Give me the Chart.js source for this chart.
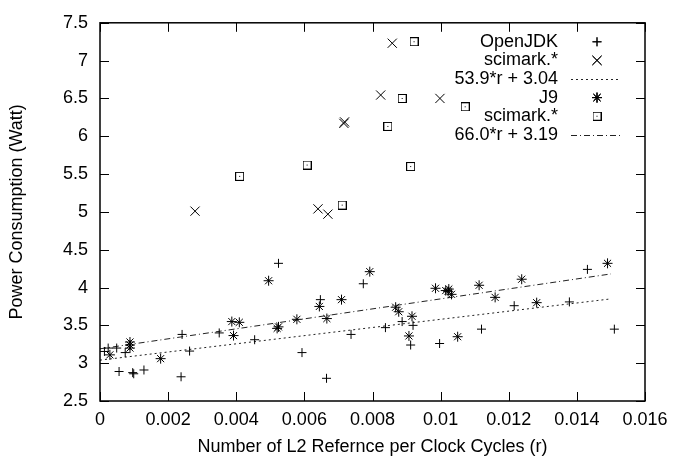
<!DOCTYPE html>
<html>
<head>
<meta charset="utf-8">
<script src="https://cdn.jsdelivr.net/npm/chart.js@4.4.0/dist/chart.umd.min.js"></script>
<style>html,body{margin:0;padding:0;background:#fff}</style>
</head>
<body>
<canvas id="chart" width="689" height="460"></canvas>
<script>
// OpenJDK runs (+)
const jdkR = [0.00013, 0.00024, 0.00049, 0.00074, 0.00056, 0.00096, 0.00099, 0.00129, 0.00238, 0.00241,
  0.00263, 0.0035, 0.00454, 0.00524, 0.00593, 0.00647, 0.00665, 0.00737, 0.00773, 0.00838,
  0.00887, 0.00919, 0.00912, 0.00997, 0.0112, 0.01216, 0.01378, 0.01431, 0.0151];
const jdkW = [3.155, 3.20, 3.20, 3.14, 2.89, 2.875, 2.86, 2.91, 2.82, 3.38,
  3.16, 3.40, 3.31, 4.32, 3.14, 3.84, 2.80, 3.38, 4.05, 3.47,
  3.55, 3.50, 3.24, 3.26, 3.45, 3.76, 3.81, 4.24, 3.45];

// OpenJDK scimark runs (x)
const jdkSciR = [0.00279, 0.0064, 0.00669, 0.00716, 0.00718, 0.00824, 0.00858, 0.00998];
const jdkSciW = [5.01, 5.04, 4.97, 6.17, 6.19, 6.545, 7.23, 6.50];

// J9 runs (*)
const j9R = [0.00029, 0.00088, 0.00088, 0.00088, 0.00178, 0.00387, 0.00409, 0.00392, 0.00495, 0.00524,
  0.0052, 0.00578, 0.00644, 0.00666, 0.00709, 0.00792, 0.00868, 0.00877, 0.00916, 0.00907,
  0.00985, 0.01015, 0.01024, 0.01032, 0.01022, 0.0105, 0.01113, 0.0116, 0.01238, 0.01282, 0.0149];
const j9W = [3.11, 3.28, 3.24, 3.20, 3.06, 3.55, 3.54, 3.365, 4.09, 3.48,
  3.46, 3.58, 3.75, 3.59, 3.84, 4.21, 3.74, 3.68, 3.62, 3.36,
  3.99, 3.96, 3.98, 3.91, 3.95, 3.35, 4.03, 3.87, 4.11, 3.80, 4.32];

// J9 scimark runs (boxed dot)
const j9SciR = [0.0041, 0.00608, 0.00711, 0.00845, 0.00887, 0.00912, 0.00922, 0.01072];
const j9SciW = [5.47, 5.62, 5.09, 6.13, 6.50, 5.60, 7.25, 6.39];

// fitted lines, end points
const fitR = [0, 0.015];
const fitJdkW = [3.04, 3.85];
const fitJ9W = [3.19, 4.18];

const labels = ["OpenJDK", "scimark.*", "53.9*r + 3.04", "J9", "scimark.*", "66.0*r + 3.19"];

function toPoints(xs, ys) {
  return xs.map((x, i) => ({ x: x, y: ys[i] }));
}

// square with a dot in the middle, like gnuplot's point type
function boxDot() {
  const c = document.createElement("canvas");
  c.width = 9;
  c.height = 9;
  const g = c.getContext("2d");
  g.strokeStyle = "#000";
  g.lineWidth = 1;
  g.strokeRect(0.5, 0.5, 8, 8);
  g.fillStyle = "#000";
  g.fillRect(4, 4, 1, 1);
  return c;
}

function pointSet(label, xs, ys, style, radius) {
  return {
    label: label,
    data: toPoints(xs, ys),
    pointStyle: style,
    pointRadius: radius,
    pointHoverRadius: radius,
    borderColor: "#000",
    backgroundColor: "rgba(0,0,0,0)",
    pointBorderWidth: 1,
    showLine: false
  };
}

function lineSet(label, xs, ys, dash) {
  return {
    label: label,
    data: toPoints(xs, ys),
    showLine: true,
    pointRadius: 0,
    borderColor: "#222",
    borderWidth: 1,
    borderDash: dash,
    fill: false
  };
}

// box + inward ticks on all four sides
const framePlugin = {
  id: "frame",
  afterDatasetsDraw(chart) {
    const ctx = chart.ctx;
    const a = chart.chartArea;
    const xs = chart.scales.x;
    const ys = chart.scales.y;
    ctx.save();
    ctx.strokeStyle = "#000";
    ctx.lineWidth = 1;
    ctx.beginPath();
    xs.ticks.forEach(t => {
      const px = Math.round(xs.getPixelForValue(t.value)) + 0.5;
      ctx.moveTo(px, a.bottom);
      ctx.lineTo(px, a.bottom - 9);
      ctx.moveTo(px, a.top);
      ctx.lineTo(px, a.top + 9);
    });
    ys.ticks.forEach(t => {
      const py = Math.round(ys.getPixelForValue(t.value)) + 0.5;
      ctx.moveTo(a.left, py);
      ctx.lineTo(a.left + 9, py);
      ctx.moveTo(a.right, py);
      ctx.lineTo(a.right - 9, py);
    });
    ctx.stroke();
    ctx.lineWidth = 1.5;
    ctx.strokeRect(a.left, a.top, a.right - a.left, a.bottom - a.top);
    ctx.restore();
  }
};

// gnuplot style key: text right aligned, sample on the right
const keyPlugin = {
  id: "key",
  afterDraw(chart) {
    const ctx = chart.ctx;
    const a = chart.chartArea;
    const textX = a.right - 87;
    const sampleX = a.right - 48;
    ctx.save();
    ctx.font = "18px 'Liberation Sans', Arial, sans-serif";
    ctx.fillStyle = "#000";
    ctx.textAlign = "right";
    ctx.textBaseline = "middle";
    chart.data.datasets.forEach((ds, i) => {
      const y = a.top + 19 + i * 18.6;
      ctx.fillText(ds.label, textX, y);
      if (ds.showLine) {
        ctx.strokeStyle = ds.borderColor;
        ctx.lineWidth = ds.borderWidth;
        ctx.setLineDash(ds.borderDash);
        ctx.beginPath();
        ctx.moveTo(sampleX - 26, Math.round(y) + 0.5);
        ctx.lineTo(sampleX + 23, Math.round(y) + 0.5);
        ctx.stroke();
        ctx.setLineDash([]);
      } else {
        Chart.helpers.drawPoint(ctx, {
          pointStyle: ds.pointStyle,
          radius: ds.pointRadius,
          rotation: 0,
          borderWidth: 1
        }, sampleX, y);
        ctx.strokeStyle = "#000";
        ctx.lineWidth = 1;
        ctx.stroke();
      }
    });
    ctx.restore();
  }
};

Chart.defaults.font.family = "'Liberation Sans', Arial, sans-serif";
Chart.defaults.font.size = 18;
Chart.defaults.color = "#000";

const ctx = document.getElementById("chart").getContext("2d");
new Chart(ctx, {
  type: "scatter",
  data: {
    datasets: [
      pointSet(labels[0], jdkR, jdkW, "cross", 4.5),
      pointSet(labels[1], jdkSciR, jdkSciW, "crossRot", 6.5),
      lineSet(labels[2], fitR, fitJdkW, [2, 3]),
      pointSet(labels[3], j9R, j9W, "star", 5),
      pointSet(labels[4], j9SciR, j9SciW, boxDot(), 4.5),
      lineSet(labels[5], fitR, fitJ9W, [6, 3, 1, 3])
    ]
  },
  options: {
    responsive: false,
    animation: false,
    devicePixelRatio: 1,
    layout: { padding: { top: 13, right: 44, left: 0, bottom: 0 } },
    plugins: {
      legend: { display: false },
      tooltip: { enabled: false }
    },
    scales: {
      x: {
        type: "linear",
        min: 0,
        max: 0.016,
        grid: { display: false, drawTicks: false },
        border: { display: false },
        ticks: {
          stepSize: 0.002,
          padding: 8,
          maxRotation: 0,
          callback: v => String(+v.toFixed(3))
        },
        title: {
          display: true,
          text: "Number of L2 Refernce per Clock Cycles (r)",
          padding: { top: 0, bottom: 2 }
        },
        afterFit(s) { s.height = 59; }
      },
      y: {
        min: 2.5,
        max: 7.5,
        grid: { display: false, drawTicks: false },
        border: { display: false },
        ticks: {
          stepSize: 0.5,
          padding: 12,
          callback: v => String(+v.toFixed(1))
        },
        title: {
          display: true,
          text: "Power Consumption (Watt)",
          padding: { top: 6, bottom: 0 }
        },
        afterFit(s) { s.width = 100; }
      }
    }
  },
  plugins: [framePlugin, keyPlugin]
});
</script>
</body>
</html>
